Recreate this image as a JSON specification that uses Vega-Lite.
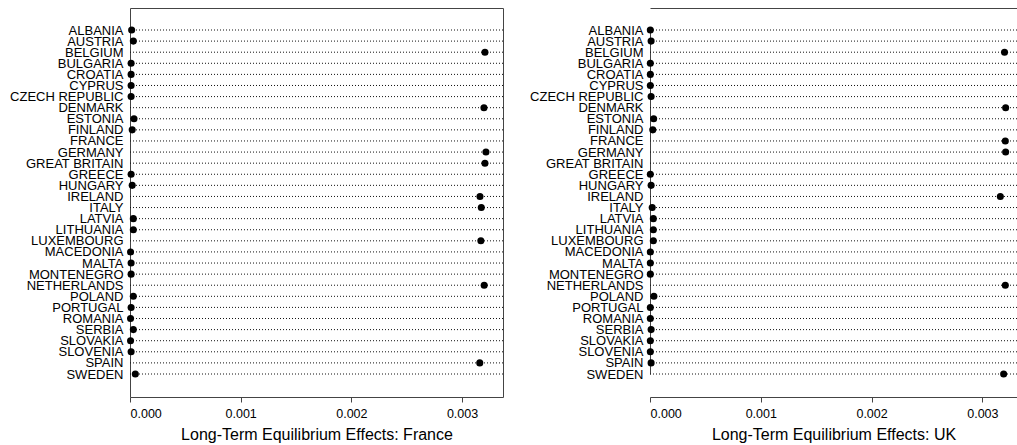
{
  "$schema": "https://vega.github.io/schema/vega-lite/v6.json",
  "padding": {"left": 9, "top": 7, "right": 0, "bottom": 0},
  "spacing": 25,
  "config": {
    "font": "Liberation Sans",
    "view": {"stroke": "#444", "strokeWidth": 1},
    "axis": {"labelFont": "Liberation Sans", "titleFont": "Liberation Sans", "labelColor": "#000", "titleColor": "#000", "grid": false, "titleFontWeight": "normal"}
  },
  "data": {"values": [
    {"country": "ALBANIA", "france": 0.000015, "uk": 0.000003},
    {"country": "AUSTRIA", "france": 0.00003, "uk": 0.00001},
    {"country": "BELGIUM", "france": 0.003207, "uk": 0.0032},
    {"country": "BULGARIA", "france": 0.00001, "uk": 0.000003},
    {"country": "CROATIA", "france": 0.00001, "uk": 0.000003},
    {"country": "CYPRUS", "france": 0.00001, "uk": 0.000003},
    {"country": "CZECH REPUBLIC", "france": 0.00001, "uk": 0.00001},
    {"country": "DENMARK", "france": 0.003198, "uk": 0.00321},
    {"country": "ESTONIA", "france": 0.000036, "uk": 0.000033},
    {"country": "FINLAND", "france": 0.00002, "uk": 0.000025},
    {"country": "FRANCE", "france": null, "uk": 0.003207},
    {"country": "GERMANY", "france": 0.003216, "uk": 0.00321},
    {"country": "GREAT BRITAIN", "france": 0.003207, "uk": null},
    {"country": "GREECE", "france": 0.00001, "uk": 0.000003},
    {"country": "HUNGARY", "france": 0.00002, "uk": 0.00001},
    {"country": "IRELAND", "france": 0.003162, "uk": 0.003162},
    {"country": "ITALY", "france": 0.003174, "uk": 0.00002},
    {"country": "LATVIA", "france": 0.00003, "uk": 0.00003},
    {"country": "LITHUANIA", "france": 0.00003, "uk": 0.00003},
    {"country": "LUXEMBOURG", "france": 0.00317, "uk": 0.00003},
    {"country": "MACEDONIA", "france": 0.000005, "uk": 0.000003},
    {"country": "MALTA", "france": 0.00001, "uk": 0.000003},
    {"country": "MONTENEGRO", "france": 0.00001, "uk": 0.000003},
    {"country": "NETHERLANDS", "france": 0.0032, "uk": 0.003207},
    {"country": "POLAND", "france": 0.00003, "uk": 0.000035},
    {"country": "PORTUGAL", "france": 0.00001, "uk": 0.000003},
    {"country": "ROMANIA", "france": 0.000005, "uk": 0.000003},
    {"country": "SERBIA", "france": 0.00003, "uk": 0.00001},
    {"country": "SLOVAKIA", "france": 0.000005, "uk": 0.000003},
    {"country": "SLOVENIA", "france": 0.00001, "uk": 0.000003},
    {"country": "SPAIN", "france": 0.00316, "uk": 0.00001},
    {"country": "SWEDEN", "france": 0.000048, "uk": 0.003192}
  ]},
  "hconcat": [
    {
      "width": 373,
      "height": 389,
      "layer": [
        {
          "mark": {"type": "rule", "strokeDash": [1, 2], "color": "#111", "strokeWidth": 1},
          "encoding": {
            "y": {"field": "country", "type": "nominal", "sort": null, "scale": {"type": "point", "padding": 0, "range": [22, 366]},
                  "axis": {"title": null, "ticks": false, "domain": false, "labelFontSize": 13, "labelPadding": 7}}
          }
        },
        {
          "mark": {"type": "point", "filled": true, "color": "black", "size": 50, "opacity": 1},
          "encoding": {
            "x": {"field": "france", "type": "quantitative", "scale": {"domain": [0, 0.00337], "nice": false, "zero": false},
                  "axis": {"title": "Long-Term Equilibrium Effects: France", "values": [0, 0.001, 0.002, 0.003], "format": ".3f",
                           "labelFontSize": 12.5, "titleFontSize": 16, "tickSize": 5, "tickColor": "#444", "domain": false,
                           "labelPadding": 5, "titlePadding": 7}},
            "y": {"field": "country", "type": "nominal", "sort": null}
          }
        }
      ]
    },
    {
      "width": 367,
      "height": 389,
      "view": {"stroke": null},
      "resolve": {"axis": {"x": "independent"}},
      "layer": [
        {
          "mark": {"type": "rule", "strokeDash": [1, 2], "color": "#111", "strokeWidth": 1},
          "encoding": {
            "y": {"field": "country", "type": "nominal", "sort": null, "scale": {"type": "point", "padding": 0, "range": [22, 366]},
                  "axis": {"title": null, "ticks": false, "domain": true, "domainColor": "#444", "labelFontSize": 13, "labelPadding": 7}}
          }
        },
        {
          "mark": {"type": "point", "filled": true, "color": "black", "size": 50, "opacity": 1},
          "encoding": {
            "x": {"field": "uk", "type": "quantitative", "scale": {"domain": [0, 0.0033125], "nice": false, "zero": false},
                  "axis": {"title": "Long-Term Equilibrium Effects: UK", "values": [0, 0.001, 0.002, 0.003], "format": ".3f",
                           "labelFontSize": 12.5, "titleFontSize": 16, "tickSize": 5, "tickColor": "#444", "domain": true, "domainColor": "#444",
                           "labelPadding": 5, "titlePadding": 7}},
            "y": {"field": "country", "type": "nominal", "sort": null}
          }
        },
        {
          "mark": {"type": "point", "opacity": 0},
          "encoding": {
            "x": {"field": "uk", "type": "quantitative",
                  "axis": {"orient": "top", "labels": false, "ticks": false, "title": null, "domain": true, "domainColor": "#444"}}
          }
        }
      ]
    }
  ]
}
